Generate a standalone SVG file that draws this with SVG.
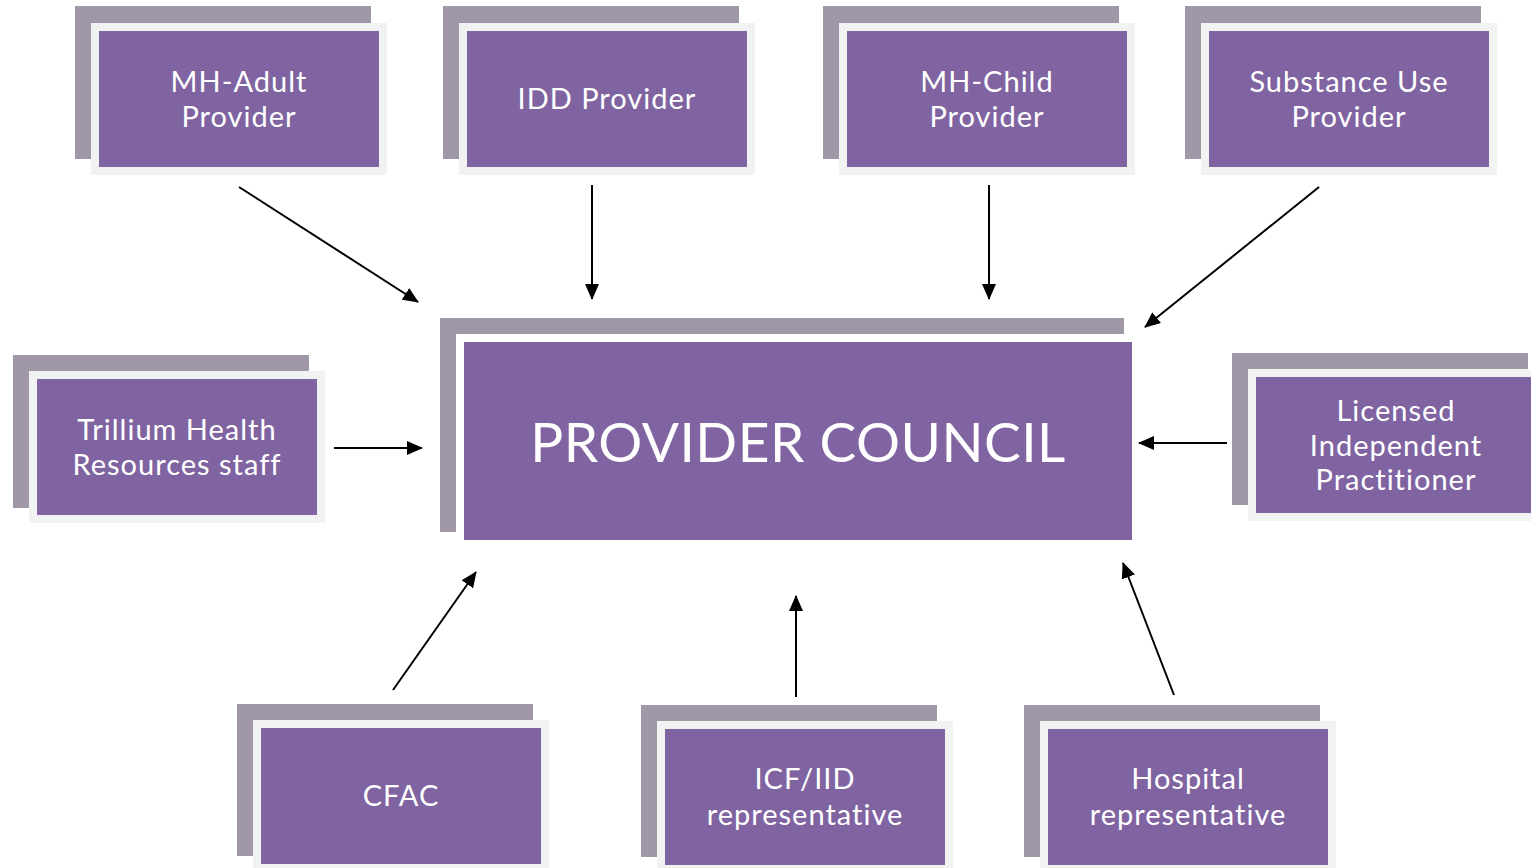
<svg xmlns="http://www.w3.org/2000/svg" width="1531" height="868" viewBox="0 0 1531 868">
<style>
.back{fill:#A098A8}
.frame{fill:#F2F2F2}
.box{fill:#8064A2}
.t{font-family:Lato,"Open Sans","Liberation Sans",sans-serif;font-size:29px;letter-spacing:1px;fill:#FFFFFF;text-anchor:middle}
.big{font-size:55px;letter-spacing:0.5px}
.c{stroke:#000;stroke-width:2;fill:none;marker-end:url(#ah)}
</style>
<defs>
<marker id="ah" markerUnits="userSpaceOnUse" markerWidth="16" markerHeight="14" refX="15" refY="7" orient="auto">
<path d="M0,0 L16,7 L0,14 z" fill="#000"/>
</marker>
</defs>
<rect width="1531" height="868" fill="#FFFFFF"/>

<g id="mh-adult">
<rect class="back" x="75" y="6" width="296" height="153"/>
<rect class="frame" x="91" y="23" width="296" height="152"/>
<rect class="box" x="99" y="31" width="280" height="136"/>
<text class="t" x="239" y="92">MH-Adult</text>
<text class="t" x="239" y="127">Provider</text>
</g>

<g id="idd">
<rect class="back" x="443" y="6" width="296" height="153"/>
<rect class="frame" x="459" y="23" width="296" height="152"/>
<rect class="box" x="467" y="31" width="280" height="136"/>
<text class="t" x="607" y="109">IDD Provider</text>
</g>

<g id="mh-child">
<rect class="back" x="823" y="6" width="296" height="153"/>
<rect class="frame" x="839" y="23" width="296" height="152"/>
<rect class="box" x="847" y="31" width="280" height="136"/>
<text class="t" x="987" y="92">MH-Child</text>
<text class="t" x="987" y="127">Provider</text>
</g>

<g id="substance">
<rect class="back" x="1185" y="6" width="296" height="153"/>
<rect class="frame" x="1201" y="23" width="296" height="152"/>
<rect class="box" x="1209" y="31" width="280" height="136"/>
<text class="t" x="1349" y="92">Substance Use</text>
<text class="t" x="1349" y="127">Provider</text>
</g>

<g id="trillium">
<rect class="back" x="13" y="355" width="296" height="153"/>
<rect class="frame" x="29" y="371" width="296" height="152"/>
<rect class="box" x="37" y="379" width="280" height="136"/>
<text class="t" x="177" y="440">Trillium Health</text>
<text class="t" x="177" y="475">Resources staff</text>
</g>

<g id="council">
<rect class="back" x="440" y="318" width="684" height="214"/>
<rect fill="#FFFFFF" x="456" y="334" width="684" height="214"/>
<rect class="box" x="464" y="342" width="668" height="198"/>
<text class="t big" x="798" y="462">PROVIDER COUNCIL</text>
</g>

<g id="licensed">
<rect class="back" x="1232" y="353" width="296" height="152"/>
<rect class="frame" x="1248" y="369" width="296" height="152"/>
<rect class="box" x="1256" y="377" width="280" height="136"/>
<text class="t" x="1396" y="421">Licensed</text>
<text class="t" x="1396" y="456">Independent</text>
<text class="t" x="1396" y="490">Practitioner</text>
</g>

<g id="cfac">
<rect class="back" x="237" y="704" width="296" height="152"/>
<rect class="frame" x="253" y="720" width="296" height="152"/>
<rect class="box" x="261" y="728" width="280" height="136"/>
<text class="t" x="401" y="806">CFAC</text>
</g>

<g id="icf">
<rect class="back" x="641" y="705" width="296" height="152"/>
<rect class="frame" x="657" y="721" width="296" height="152"/>
<rect class="box" x="665" y="729" width="280" height="136"/>
<text class="t" x="805" y="789">ICF/IID</text>
<text class="t" x="805" y="825">representative</text>
</g>

<g id="hospital">
<rect class="back" x="1024" y="705" width="296" height="152"/>
<rect class="frame" x="1040" y="721" width="296" height="152"/>
<rect class="box" x="1048" y="729" width="280" height="136"/>
<text class="t" x="1188" y="789">Hospital</text>
<text class="t" x="1188" y="825">representative</text>
</g>

<g id="connectors">
<line class="c" x1="239" y1="187" x2="418" y2="302"/>
<line class="c" x1="592" y1="185" x2="592" y2="299"/>
<line class="c" x1="989" y1="185" x2="989" y2="299"/>
<line class="c" x1="1319" y1="187" x2="1145" y2="327"/>
<line class="c" x1="334" y1="448" x2="422" y2="448"/>
<line class="c" x1="1227" y1="443" x2="1139" y2="443"/>
<line class="c" x1="393" y1="690" x2="476" y2="572"/>
<line class="c" x1="796" y1="697" x2="796" y2="596"/>
<line class="c" x1="1174" y1="695" x2="1123" y2="563"/>
</g>
</svg>
